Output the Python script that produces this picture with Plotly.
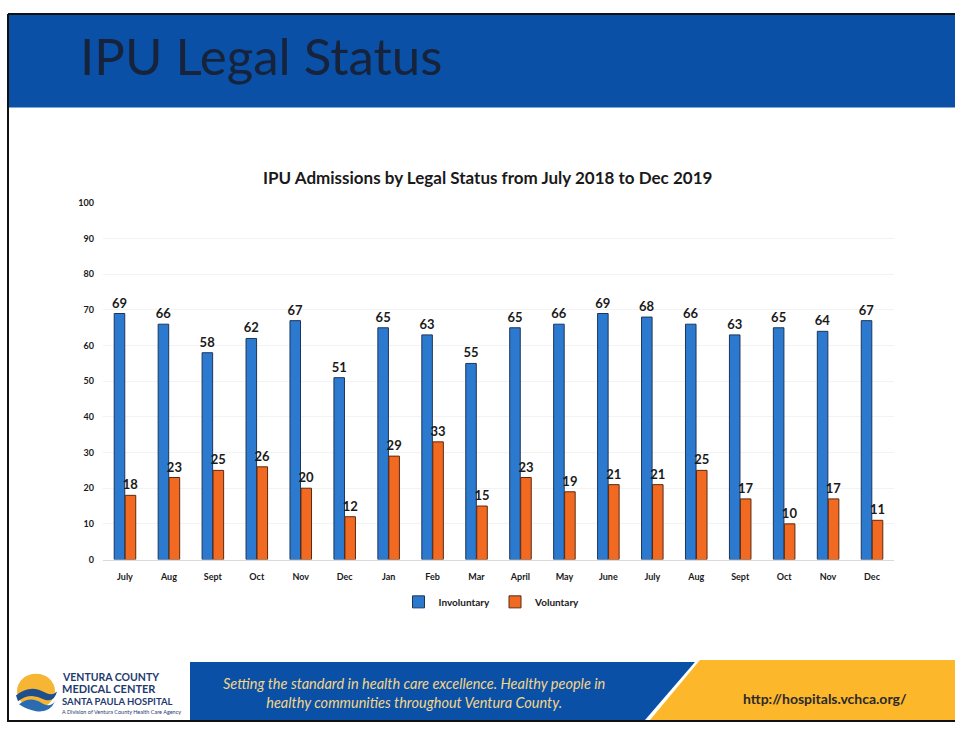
import plotly.graph_objects as go

W, H = 955, 729

months = ["July", "Aug", "Sept", "Oct", "Nov", "Dec", "Jan", "Feb", "Mar", "April",
          "May", "June", "July", "Aug", "Sept", "Oct", "Nov", "Dec"]
involuntary = [69, 66, 58, 62, 67, 51, 65, 63, 55, 65, 66, 69, 68, 66, 63, 65, 64, 67]
voluntary = [18, 23, 25, 26, 20, 12, 29, 33, 15, 23, 19, 21, 21, 25, 17, 10, 17, 11]
y_ticks = [0, 10, 20, 30, 40, 50, 60, 70, 80, 90, 100]

positions = list(range(len(months)))

BLUE = "#2C7AD0"
ORANGE = "#F26A21"
FONT = "Lato"


def px(x):
    return x / W


def py(y):
    return 1 - y / H


fig = go.Figure()
fig.add_trace(go.Bar(
    x=positions, y=involuntary, name="Involuntary",
    marker=dict(color=BLUE, line=dict(color="#1d3557", width=1)),
    text=involuntary, textposition="outside", cliponaxis=False, constraintext="none",
    textfont=dict(family=FONT, size=13, color="#1a1a1a", weight="bold"),
))
fig.add_trace(go.Bar(
    x=positions, y=voluntary, name="Voluntary",
    marker=dict(color=ORANGE, line=dict(color="#5a2a10", width=1)),
    text=voluntary, textposition="outside", cliponaxis=False, constraintext="none",
    textfont=dict(family=FONT, size=13, color="#1a1a1a", weight="bold"),
))

shapes = []
# header band
shapes.append(dict(type="rect", xref="paper", yref="paper",
                   x0=px(8), x1=px(955), y0=py(103), y1=py(8),
                   fillcolor="#0A50A6", line=dict(width=0), layer="below"))
shapes.append(dict(type="line", xref="paper", yref="paper",
                   x0=px(8), x1=px(955), y0=py(8), y1=py(8),
                   line=dict(color="#111111", width=2)))
# slide border left / bottom
shapes.append(dict(type="line", xref="paper", yref="paper",
                   x0=px(8), x1=px(8), y0=py(727), y1=py(8),
                   line=dict(color="#111111", width=2)))
shapes.append(dict(type="line", xref="paper", yref="paper",
                   x0=px(8), x1=px(955), y0=py(726), y1=py(726),
                   line=dict(color="#111111", width=2)))
# footer blue band with slanted edge
shapes.append(dict(type="path", xref="paper", yref="paper",
                   path=f"M {px(190)} {py(666)} L {px(695)} {py(666)} L {px(645)} {py(725)} L {px(190)} {py(725)} Z",
                   fillcolor="#0A50A6", line=dict(width=0), layer="below"))
# footer yellow band
shapes.append(dict(type="path", xref="paper", yref="paper",
                   path=f"M {px(700)} {py(664)} L {px(955)} {py(664)} L {px(955)} {py(725)} L {px(650)} {py(725)} Z",
                   fillcolor="#FDB72B", line=dict(width=0), layer="below"))
# logo: sun
shapes.append(dict(type="circle", xref="paper", yref="paper",
                   x0=px(17), x1=px(55), y0=py(713), y1=py(678),
                   fillcolor="#F6B533", line=dict(width=0), layer="below"))
# logo waves
shapes.append(dict(type="path", xref="paper", yref="paper",
                   path=(f"M {px(16)} {py(700)} Q {px(30)} {py(688)} {px(45)} {py(697)} "
                         f"Q {px(52)} {py(701)} {px(57)} {py(696)} "
                         f"Q {px(54)} {py(708)} {px(44)} {py(704)} "
                         f"Q {px(30)} {py(696)} {px(18)} {py(706)} Z"),
                   fillcolor="#1F4E8C", line=dict(width=0)))
shapes.append(dict(type="path", xref="paper", yref="paper",
                   path=(f"M {px(19)} {py(709)} Q {px(30)} {py(700)} {px(42)} {py(708)} "
                         f"Q {px(50)} {py(713)} {px(55)} {py(706)} "
                         f"Q {px(50)} {py(718)} {px(36)} {py(716)} "
                         f"Q {px(26)} {py(714)} {px(19)} {py(709)} Z"),
                   fillcolor="#2B6CB0", line=dict(width=0)))

annotations = [
    dict(text="IPU Legal Status", x=px(78), y=py(50), xref="paper", yref="paper",
         xanchor="left", yanchor="middle", showarrow=False,
         font=dict(family=FONT, size=51, color="#16233a")),
    dict(text="<b>IPU Admissions by Legal Status from July 2018 to Dec 2019</b>",
         x=px(487), y=py(174), xref="paper", yref="paper",
         xanchor="center", yanchor="middle", showarrow=False,
         font=dict(family=FONT, size=17, color="#1a1a1a")),
    dict(text="<i>Setting the standard in health care excellence. Healthy people in<br>"
              "healthy communities throughout Ventura County.</i>",
         x=px(414), y=py(698), xref="paper", yref="paper",
         xanchor="center", yanchor="middle", showarrow=False, align="center",
         font=dict(family=FONT, size=14.5, color="#F3D58A")),
    dict(text="http://hospitals.vchca.org/", x=px(825), y=py(703), xref="paper", yref="paper",
         xanchor="center", yanchor="middle", showarrow=False,
         font=dict(family=FONT, size=14, color="#2a2a2a", weight="bold")),
    dict(text="<b>VENTURA COUNTY</b>", x=px(60), y=py(681), xref="paper", yref="paper",
         xanchor="left", yanchor="middle", showarrow=False,
         font=dict(family=FONT, size=10.5, color="#1F3B6E")),
    dict(text="<b>MEDICAL CENTER</b>", x=px(60), y=py(693), xref="paper", yref="paper",
         xanchor="left", yanchor="middle", showarrow=False,
         font=dict(family=FONT, size=11, color="#1F3B6E")),
    dict(text="<b>SANTA PAULA HOSPITAL</b>", x=px(60), y=py(706), xref="paper", yref="paper",
         xanchor="left", yanchor="middle", showarrow=False,
         font=dict(family=FONT, size=9.5, color="#1F3B6E")),
    dict(text="A Division of Ventura County Health Care Agency", x=px(60), y=py(717), xref="paper", yref="paper",
         xanchor="left", yanchor="middle", showarrow=False,
         font=dict(family=FONT, size=5.5, color="#1F3B6E")),
]

fig.update_layout(
    width=W, height=H,
    margin=dict(l=0, r=0, t=0, b=0),
    paper_bgcolor="white", plot_bgcolor="white",
    barmode="group", bargap=0.5, bargroupgap=0.04,
    font=dict(family=FONT),
    shapes=shapes, annotations=annotations,
    showlegend=True,
    legend=dict(orientation="h", x=px(492), y=py(605), xanchor="center", yanchor="middle",
                font=dict(family=FONT, size=10, color="#1a1a1a", weight="bold"),
                itemwidth=30, tracegroupgap=0, bgcolor="rgba(0,0,0,0)"),
    xaxis=dict(domain=[px(103), px(894)], range=[-0.5, len(months) - 0.5],
               tickmode="array", tickvals=positions, ticktext=months,
               tickfont=dict(family=FONT, size=9, color="#1a1a1a", weight="bold"),
               showgrid=False, showline=True, linecolor="#d9d9d9", linewidth=1,
               ticks="", ticklabelstandoff=9, zeroline=False),
    yaxis=dict(domain=[py(562), py(200)], range=[0, 100],
               tickmode="array", tickvals=y_ticks,
               tickfont=dict(family=FONT, size=9, color="#1a1a1a", weight="bold"),
               showgrid=True, gridcolor="#f3f3f3", gridwidth=1,
               zeroline=False, showline=False, ticks="", ticklabelstandoff=8),
)

fig.write_html("out.html")
